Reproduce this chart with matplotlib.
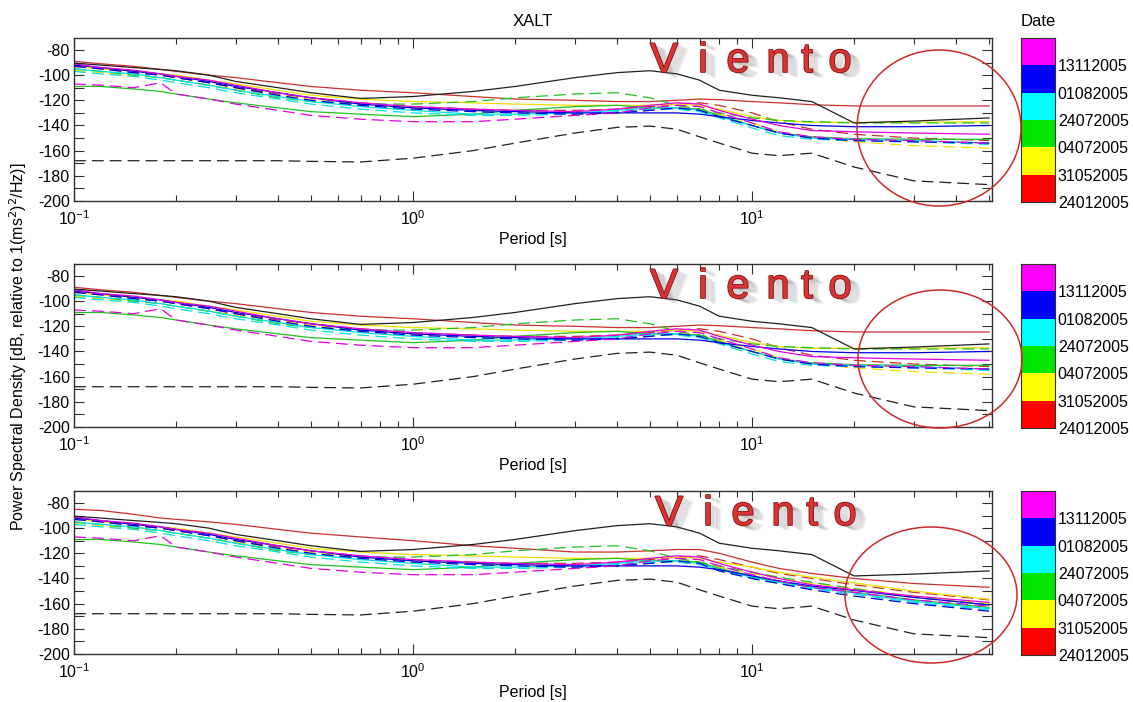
import matplotlib
matplotlib.use("Agg")
import matplotlib.pyplot as plt
import matplotlib.patheffects as pe
from matplotlib.patches import Ellipse
from matplotlib.colors import ListedColormap
from matplotlib.ticker import FixedLocator, FuncFormatter
import numpy as np

plt.rcParams['font.family'] = ['Liberation Sans', 'DejaVu Sans']
plt.rcParams['font.size'] = 11.5
plt.rcParams['axes.unicode_minus'] = False

# ---- data ----
periods = [0.1, 0.12, 0.15, 0.18, 0.2, 0.25, 0.3, 0.4, 0.5, 0.7, 1, 1.5, 2, 3, 4,
           5, 6, 7, 8, 10, 12, 15, 20, 30, 50]

nhnm = [-90.5, -92, -94, -95.5, -96.5, -100, -105, -110, -114, -118.5, -117, -113, -109,
        -102, -98, -96.5, -99, -104, -112, -116, -118, -121, -138, -136.5, -134]
nlnm = [-168, -168, -168, -168, -168, -168, -168, -168, -168.5, -169, -166, -160, -154,
        -146, -141.5, -140.5, -143, -149, -154, -162, -164, -162, -173, -184, -187]

# panels 1 and 2
red_solid_a = [-89, -91, -93, -95.5, -97, -100, -102, -106, -109, -112, -114, -117, -119,
               -120, -121, -121, -120, -119, -119.5, -121, -122, -123.5, -124.5, -124.5, -124.5]
red_dashed_a = [-93, -95, -98, -100, -102, -106, -110, -115, -118, -122, -125, -127, -128,
                -128, -127, -125, -123, -122, -124, -130, -137, -143, -147, -150, -152]
yellow_solid_a = [-93, -95, -97, -99, -100, -104, -107, -112, -116, -119, -121, -122, -123,
                  -124, -124, -124, -123, -124, -127, -133, -136, -137.5, -137.5, -137.5, -137]
yellow_dashed_a = [-96, -98, -100, -102, -104, -108, -111, -116, -119, -123, -126, -128, -129,
                   -130, -130, -128, -126, -127, -131, -138, -145, -150, -153, -156, -158]
green_solid_a = [-109, -109, -111, -113, -115, -119, -122, -126, -129, -131, -133, -131, -128,
                 -125, -124, -126, -126, -127, -132, -140, -146, -149, -150.5, -151, -151]
green_dashed_a = [-95, -97, -100, -102, -104, -108, -112, -118, -121, -123, -123, -121, -118,
                  -115, -114, -118, -124, -127, -130, -134, -136, -137, -138, -138, -138]
cyan_solid_a = [-95, -97, -99, -102, -104, -108, -112, -117, -121, -125, -128, -131, -131,
                -130, -128, -126, -126, -128, -133, -140, -146, -150, -151, -152, -154]
cyan_dashed_a = [-97, -99, -101, -104, -106, -110, -114, -119, -123, -127, -130, -132, -132,
                 -131, -129, -127, -127, -129, -134, -142, -148, -151, -152, -153, -155]
blue_solid_a = [-92, -94, -97, -99, -101, -105, -109, -114, -118, -123, -126, -128, -129,
                -130, -130, -130, -130, -131, -133, -136, -138, -140, -141, -141, -140]
blue_dashed_a = [-93, -95, -98, -100, -102, -106, -110, -116, -120, -124, -127, -129, -130,
                 -131, -130, -128, -126, -128, -133, -140, -146, -150, -152, -153, -154]
magenta_solid_a = [-91, -94, -96, -99, -101, -104, -108, -114, -118, -122, -125, -127, -128,
                   -129, -127, -124, -122, -123, -128, -135, -140, -144, -145, -146, -147]
magenta_dashed_a = [-107, -108, -110, -106, -115, -119, -123, -128, -132, -135, -137, -137, -135,
                    -132, -130, -126, -124, -125, -130, -138, -145, -149, -151, -152, -154]

# panel 3
red_solid_c = [-85, -86, -89, -92, -93, -95, -97, -101, -104, -107, -110, -114, -116,
               -119, -119, -118, -117, -117, -120, -127, -132, -136, -140, -144, -147]
red_dashed_c = [-93, -95, -98, -100, -102, -106, -110, -115, -118, -122, -125, -127, -128,
                -128, -127, -125, -123, -122, -125, -131, -136, -140, -145, -151, -157]
yellow_solid_c = [-93, -95, -97, -99, -100, -104, -107, -112, -116, -119, -121, -122, -123,
                  -124, -124, -124, -123, -124, -127, -131, -135, -139, -143.5, -150, -156.5]
yellow_dashed_c = [-96, -98, -100, -102, -104, -108, -111, -116, -119, -123, -126, -128, -129,
                   -130, -130, -128, -126, -127, -131, -136, -140, -144, -148, -154, -160]
green_solid_c = [-109, -109, -111, -113, -115, -119, -122, -126, -129, -131, -133, -131, -128,
                 -125, -124, -126, -126, -127, -132, -138, -142, -147, -151, -157, -163]
green_dashed_c = [-95, -97, -100, -102, -104, -108, -112, -118, -121, -123, -123, -121, -118,
                  -115, -114, -118, -124, -127, -130, -135, -139, -143, -148, -155, -161]
cyan_solid_c = [-95, -97, -99, -102, -104, -108, -112, -117, -121, -125, -128, -131, -131,
                -130, -128, -126, -126, -128, -133, -139, -143, -147, -151.5, -158, -164]
cyan_dashed_c = [-97, -99, -101, -104, -106, -110, -114, -119, -123, -127, -130, -132, -132,
                 -131, -129, -127, -127, -129, -134, -140, -144, -148, -152.5, -159, -165]
blue_solid_c = [-92, -94, -97, -99, -101, -105, -109, -114, -118, -123, -126, -128, -129,
                -130, -130, -130, -130, -131, -133, -138, -142, -146, -149.5, -155, -161]
blue_dashed_c = [-93, -95, -98, -100, -102, -106, -110, -116, -120, -124, -127, -129, -130,
                 -131, -130, -128, -126, -128, -134, -140, -144, -149, -154, -160, -166]
magenta_solid_c = [-91, -94, -96, -99, -101, -104, -108, -114, -118, -122, -125, -127, -128,
                   -129, -127, -124, -122, -123, -128, -135, -140, -145, -149, -154, -159]
magenta_dashed_c = [-107, -108, -110, -106, -115, -119, -123, -128, -132, -135, -137, -137, -135,
                    -132, -130, -126, -124, -125, -130, -137, -142, -147, -151, -157, -162]

dates = ['24012005', '31052005', '04072005', '24072005', '01082005', '13112005']
date_colors = ['#ff0000', '#ffff00', '#00e600', '#00ffff', '#0000ff', '#ff00ff']
line_colors = ['#c83030', '#f0e000', '#20c020', '#00e0e0', '#0000e0', '#e000e0']

panel_a = [red_solid_a, red_dashed_a, yellow_solid_a, yellow_dashed_a, green_solid_a,
           green_dashed_a, cyan_solid_a, cyan_dashed_a, blue_solid_a, blue_dashed_a,
           magenta_solid_a, magenta_dashed_a]
panel_c = [red_solid_c, red_dashed_c, yellow_solid_c, yellow_dashed_c, green_solid_c,
           green_dashed_c, cyan_solid_c, cyan_dashed_c, blue_solid_c, blue_dashed_c,
           magenta_solid_c, magenta_dashed_c]

W, H = 1133, 702
fig = plt.figure(figsize=(W / 100, H / 100), dpi=100)


def fx(x):
    return x / W


def fy(y):
    return 1 - y / H


tops = [38, 264, 491]
panel_h = 163
dash = (9.5, 4.8)

for k, top in enumerate(tops):
    ax = fig.add_axes([fx(74), fy(top + panel_h), fx(992) - fx(74), panel_h / H])
    data = panel_c if k == 2 else panel_a
    for i, vals in enumerate(data):
        c = line_colors[i // 2]
        if i % 2 == 0:
            ax.semilogx(periods, vals, color=c, lw=0.9)
        else:
            ax.semilogx(periods, vals, color=c, lw=0.9, dashes=dash)
    ax.semilogx(periods, nhnm, color='#202020', lw=0.9)
    ax.semilogx(periods, nlnm, color='#202020', lw=0.9, dashes=dash)

    ax.set_xlim(0.1, 51)
    ax.set_ylim(-200, -70.5)
    ax.yaxis.set_major_locator(FixedLocator(np.arange(-200, -70, 10)))
    ax.yaxis.set_major_formatter(FuncFormatter(lambda v, p: '%d' % v if int(v) % 20 == 0 else ''))
    ax.tick_params(which='both', direction='in', top=True, right=True, colors='#303030',
                   labelcolor='black')
    ax.tick_params(which='major', length=7, width=0.8, pad=6)
    ax.tick_params(which='minor', length=4, width=0.8)
    ax.tick_params(axis='y', which='major', pad=3)
    for s in ax.spines.values():
        s.set_color('#303030')
        s.set_linewidth(1)
    ax.set_xlabel('Period [s]', labelpad=3)
    if k == 0:
        ax.set_title('XALT', pad=9, fontsize=12)

    # colour bar with dates
    cax = fig.add_axes([fx(1021), fy(top + panel_h + 1), fx(1055) - fx(1021), (panel_h + 1) / H])
    cax.imshow(np.arange(6).reshape(-1, 1), cmap=ListedColormap(date_colors), origin='lower',
               aspect='auto', extent=[0, 1, 0, 6])
    cax.set_xticks([])
    cax.set_yticks(range(6))
    cax.set_yticklabels(dates)
    cax.yaxis.tick_right()
    cax.tick_params(axis='y', length=0, pad=2)
    for s in cax.spines.values():
        s.set_color('#303030')
    if k == 0:
        cax.set_title('Date', pad=9, fontsize=12)

# red circles around the long periods
circles = [(939, 128, 82, 78), (940, 359, 82, 69), (931, 595, 86, 68)]
for cx, cy, rx, ry in circles:
    fig.add_artist(Ellipse((fx(cx), fy(cy)), 2 * rx / W, 2 * ry / H, transform=fig.transFigure,
                           fill=False, ec='#d02828', lw=1.1))

# "Viento" label
letters = ['V', 'i', 'e', 'n', 't', 'o']
letter_x = [664, 703, 738, 778, 807, 840]
shadow = [pe.withSimplePatchShadow(offset=(d, -0.5 * d), shadow_rgbFace='#666666', alpha=0.09)
          for d in (1, 2, 3, 4, 5, 6, 7, 8)]
effects = shadow + [pe.Stroke(linewidth=1.2, foreground='#8a1010'), pe.Normal()]
for top, shift in zip(tops, [0, 0, 5]):
    for ch, x in zip(letters, letter_x):
        fig.text(fx(x + shift), fy(top + 34), ch, fontsize=30, color='#d83434',
                 ha='center', va='baseline', path_effects=effects)

fig.text(fx(18), 0.506, 'Power Spectral Density [dB, relative to 1(ms$^{2}$)$^{2}$/Hz)]',
         rotation=90, ha='center', va='center')

fig.savefig('out.png', dpi=100)
